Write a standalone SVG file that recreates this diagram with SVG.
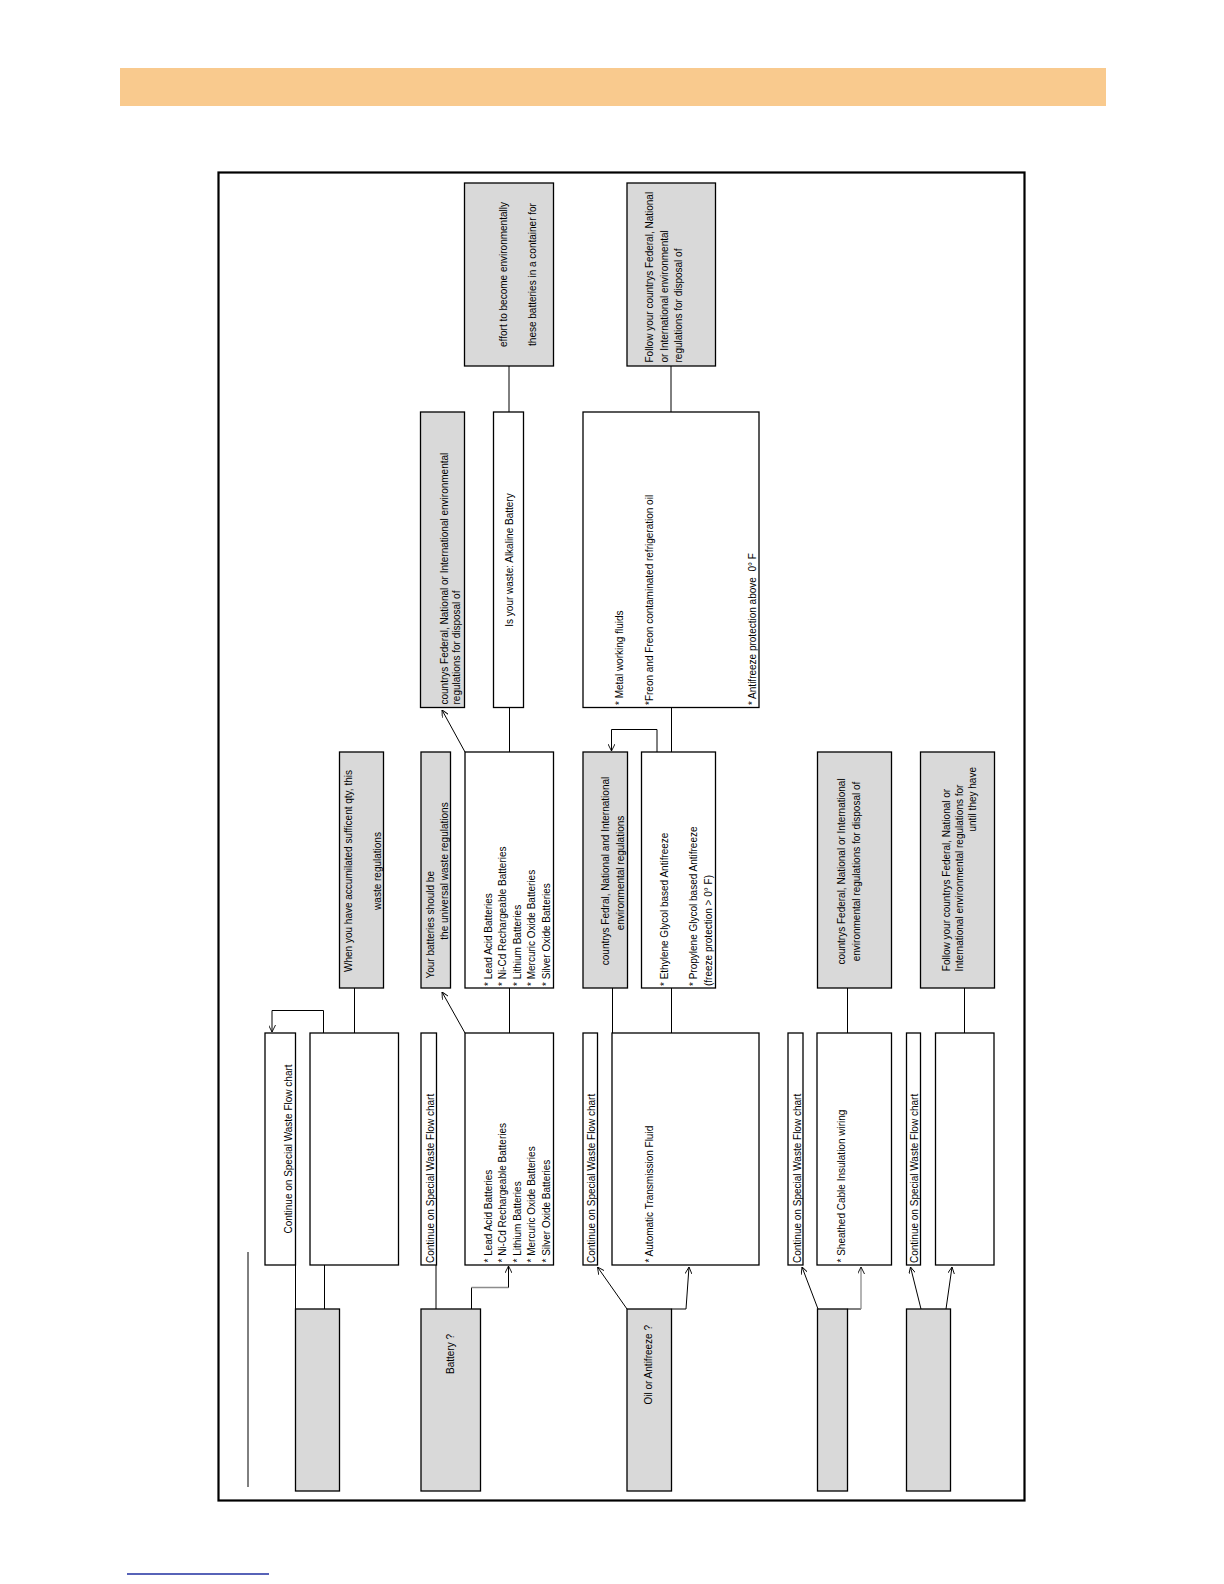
<svg xmlns="http://www.w3.org/2000/svg" width="1224" height="1584" viewBox="0 0 1224 1584">
<style>
.bw{fill:#fff;stroke:#000;stroke-width:1.3}
.bg{fill:#d9d9d9;stroke:#000;stroke-width:1.3}
.t{font-family:"Liberation Sans",Arial,sans-serif;font-size:10px;fill:#000}
.m{text-anchor:middle}
.e{text-anchor:end}
.c{fill:none;stroke:#000;stroke-width:1}
.cg{fill:none;stroke:#8c8c8c;stroke-width:1.3}
</style>
<defs>
<marker id="ah" viewBox="0 0 10 10" refX="10" refY="5" markerWidth="7" markerHeight="7" markerUnits="userSpaceOnUse" orient="auto">
<path d="M0,0 L10,5 L0,10" fill="none" stroke="#000" stroke-width="1.3"/>
</marker>
</defs>
<rect x="120" y="68" width="986" height="38" fill="#f9ca8e"/>
<line x1="127" y1="1574" x2="269" y2="1574" stroke="#1f2fa0" stroke-width="1.3"/>
<rect x="218.5" y="172.5" width="806" height="1328" fill="none" stroke="#000" stroke-width="2.2"/>
<line x1="248" y1="1252" x2="248" y2="1487" stroke="#000" stroke-width="1"/>

<g id="connectors">
<path class="c" d="M295.5,1309 V1265"/>
<path class="c" d="M324.5,1309 V1265"/>
<path class="c" d="M354.5,1033 V988"/>
<path class="c" d="M323.5,1033 V1010.5 H272 V1032" marker-end="url(#ah)"/>
<path class="c" d="M436,1309 V1265"/>
<path class="c" d="M471.5,1309 V1287.5"/>
<path class="cg" d="M471.5,1287.5 H508.5"/>
<path class="c" d="M508.5,1287.5 V1266" marker-end="url(#ah)"/>
<path class="c" d="M465,1033 L442,992" marker-end="url(#ah)"/>
<path class="c" d="M509.5,1033 V988"/>
<path class="c" d="M465,752 L442,710" marker-end="url(#ah)"/>
<path class="c" d="M509.5,752 V707.5"/>
<path class="c" d="M509,412 V366"/>
<path class="c" d="M627,1309 L597.5,1267" marker-end="url(#ah)"/>
<path class="c" d="M671.5,1309 H686 L689,1267" marker-end="url(#ah)"/>
<path class="c" d="M612.5,1033 V988"/>
<path class="c" d="M671.5,1033 V988"/>
<path class="c" d="M657,752 V729.5 H611.5 V751" marker-end="url(#ah)"/>
<path class="c" d="M671.5,752 V707.5"/>
<path class="c" d="M671,412 V366"/>
<path class="c" d="M818,1309 L802,1267" marker-end="url(#ah)"/>
<path class="c" d="M847.5,1309 H861"/>
<path class="cg" d="M861,1309 V1267" marker-end="url(#ah)"/>
<path class="c" d="M847.5,1033 V988"/>
<path class="c" d="M921,1309 L910.5,1267" marker-end="url(#ah)"/>
<path class="c" d="M946,1309 L952,1267" marker-end="url(#ah)"/>
<path class="c" d="M964.5,1033 V988"/>
</g>

<g id="n1-start"><rect class="bg" x="295.5" y="1309" width="44" height="182"/></g>
<g id="n1-continue"><rect class="bw" x="265" y="1033" width="30.5" height="232"/>
<text class="t m" transform="translate(292.3,1149) rotate(-90)">Continue on Special Waste Flow chart</text></g>
<g id="n1-blank"><rect class="bw" x="310" y="1033" width="88.5" height="232"/></g>
<g id="n1-when"><rect class="bg" x="339.5" y="752" width="44" height="236"/>
<text class="t m" transform="translate(351.5,871) rotate(-90)">When you have accumilated sufficent qty, this</text>
<text class="t m" transform="translate(381,871) rotate(-90)">waste regulations</text></g>

<g id="n2-battery"><rect class="bg" x="421" y="1309" width="59.5" height="182"/>
<text class="t" transform="translate(454,1374) rotate(-90)">Battery ?</text></g>
<g id="n2-continue"><rect class="bw" x="421" y="1033" width="15.5" height="232"/>
<text class="t" transform="translate(433.5,1263) rotate(-90)">Continue on Special Waste Flow chart</text></g>
<g id="n2-list1"><rect class="bw" x="465" y="1033" width="88.5" height="232"/>
<text class="t" transform="translate(491.5,1262.5) rotate(-90)">* Lead Acid Batteries</text>
<text class="t" transform="translate(506,1262.5) rotate(-90)">* Ni-Cd Rechargeable Batteries</text>
<text class="t" transform="translate(520.5,1262.5) rotate(-90)">* Lithium Batteries</text>
<text class="t" transform="translate(535,1262.5) rotate(-90)">* Mercuric Oxide Batteries</text>
<text class="t" transform="translate(549.5,1262.5) rotate(-90)">* Silver Oxide Batteries</text></g>
<g id="n2-your"><rect class="bg" x="421" y="752" width="29.5" height="236"/>
<text class="t" transform="translate(433.5,978.5) rotate(-90)">Your batteries should be</text>
<text class="t m" transform="translate(448,871) rotate(-90)">the universal waste regulations</text></g>
<g id="n2-list2"><rect class="bw" x="465" y="752" width="88.5" height="236"/>
<text class="t" transform="translate(491.5,986) rotate(-90)">* Lead Acid Batteries</text>
<text class="t" transform="translate(506,986) rotate(-90)">* Ni-Cd Rechargeable Batteries</text>
<text class="t" transform="translate(520.5,986) rotate(-90)">* Lithium Batteries</text>
<text class="t" transform="translate(535,986) rotate(-90)">* Mercuric Oxide Batteries</text>
<text class="t" transform="translate(549.5,986) rotate(-90)">* Silver Oxide Batteries</text></g>
<g id="n2-countrys"><rect class="bg" x="420.5" y="412" width="44" height="295.5"/>
<text class="t" transform="translate(447.5,704.5) rotate(-90)">countrys Federal, National or International environmental</text>
<text class="t" transform="translate(460,704.5) rotate(-90)">regulations for disposal of</text></g>
<g id="n2-alkaline"><rect class="bw" x="493.5" y="412" width="30" height="295.5"/>
<text class="t m" transform="translate(512.5,560) rotate(-90)">Is your waste: Alkaline Battery</text></g>
<g id="n2-effort"><rect class="bg" x="464.5" y="183" width="89" height="183"/>
<text class="t m" transform="translate(506.5,274.5) rotate(-90)">effort to become environmentally</text>
<text class="t m" transform="translate(535.5,274.5) rotate(-90)">these batteries in a container for</text></g>

<g id="n3-oil"><rect class="bg" x="627" y="1309" width="44.5" height="182"/>
<text class="t" transform="translate(652.3,1404.5) rotate(-90)">Oil or Antifreeze ?</text></g>
<g id="n3-continue"><rect class="bw" x="583" y="1033" width="14.5" height="232"/>
<text class="t" transform="translate(595.3,1263) rotate(-90)">Continue on Special Waste Flow chart</text></g>
<g id="n3-atf"><rect class="bw" x="612" y="1033" width="147" height="232"/>
<text class="t" transform="translate(653,1262.5) rotate(-90)">* Automatic Transmission Fluid</text></g>
<g id="n3-countrys"><rect class="bg" x="583" y="752" width="44.5" height="236"/>
<text class="t m" transform="translate(608.5,871) rotate(-90)">countrys Fedral, National and International</text>
<text class="t m" transform="translate(623.5,873) rotate(-90)">environmental regulations</text></g>
<g id="n3-antifreeze"><rect class="bw" x="641.5" y="752" width="74" height="236"/>
<text class="t" transform="translate(667.5,986) rotate(-90)">* Ethylene Glycol based Antifreeze</text>
<text class="t" transform="translate(696.5,986) rotate(-90)">* Propylene Glycol based Antifreeze</text>
<text class="t" transform="translate(711.5,986) rotate(-90)">(freeze protection &gt; 0° F)</text></g>
<g id="n3-oillist"><rect class="bw" x="583" y="412" width="176" height="295.5"/>
<text class="t" transform="translate(622.5,705) rotate(-90)">* Metal working fluids</text>
<text class="t" transform="translate(652.5,705) rotate(-90)">*Freon and Freon contaminated refrigeration oil</text>
<text class="t" transform="translate(755.5,705) rotate(-90)" xml:space="preserve">* Antifreeze protection above  0° F</text></g>
<g id="n3-follow"><rect class="bg" x="627" y="183" width="88.5" height="183"/>
<text class="t" transform="translate(653,362.5) rotate(-90)">Follow your countrys Federal, National</text>
<text class="t" transform="translate(667.5,362.5) rotate(-90)">or International environmental</text>
<text class="t" transform="translate(681.5,362.5) rotate(-90)">regulations for disposal of</text></g>

<g id="n4-start"><rect class="bg" x="817.5" y="1309" width="30" height="182"/></g>
<g id="n4-continue"><rect class="bw" x="788" y="1033" width="15" height="232"/>
<text class="t" transform="translate(800.7,1263) rotate(-90)">Continue on Special Waste Flow chart</text></g>
<g id="n4-cable"><rect class="bw" x="817" y="1033" width="74.5" height="232"/>
<text class="t" transform="translate(844.5,1262.5) rotate(-90)">* Sheathed Cable Insulation wiring</text></g>
<g id="n4-countrys"><rect class="bg" x="817.5" y="752" width="74" height="236"/>
<text class="t m" transform="translate(845,871.5) rotate(-90)">countrys Federal, National or International</text>
<text class="t m" transform="translate(859.5,871.5) rotate(-90)">environmental regulations for disposal of</text></g>

<g id="n5-start"><rect class="bg" x="906.5" y="1309" width="44" height="182"/></g>
<g id="n5-continue"><rect class="bw" x="906.5" y="1033" width="14" height="232"/>
<text class="t" transform="translate(918.3,1263) rotate(-90)">Continue on Special Waste Flow chart</text></g>
<g id="n5-blank"><rect class="bw" x="935.5" y="1033" width="58.5" height="232"/></g>
<g id="n5-follow"><rect class="bg" x="920.5" y="752" width="74" height="236"/>
<text class="t m" transform="translate(949.5,880) rotate(-90)">Follow your countrys Federal, National or</text>
<text class="t m" transform="translate(962.5,878) rotate(-90)">International environmental regulations for</text>
<text class="t e" transform="translate(976,767) rotate(-90)">until they have</text></g>
</svg>
